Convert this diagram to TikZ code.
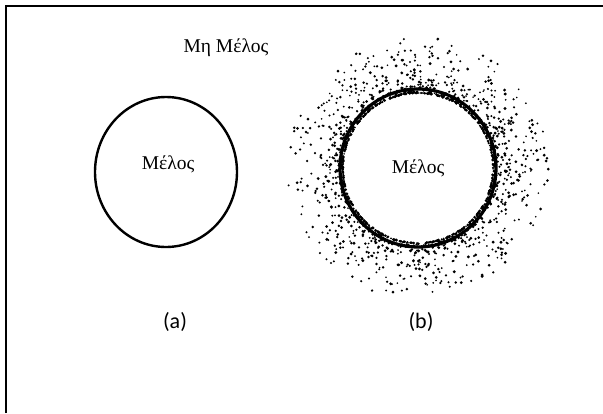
\documentclass[tikz,border=0pt]{standalone}
\usepackage{fontspec}
\setmainfont{Liberation Serif}
\newfontfamily\labfont{Carlito}
\usetikzlibrary{shapes.geometric}
\begin{document}
\begin{tikzpicture}[x=1pt,y=-1pt,
  greek/.style={font=\fontsize{19.5}{22}\selectfont, inner sep=0pt},
  lab/.style={font=\labfont\fontsize{22}{24}\selectfont, inner sep=0pt},
  memb/.style={draw, ellipse, inner sep=0pt}]
\useasboundingbox (0,0) rectangle (603,413);
% frame (cropped on right and bottom)
\draw[line width=1.8pt] (6,413) -- (6,6) -- (603,6);
% (a)
\node[memb, line width=2.4pt, minimum width=142, minimum height=150] (ca) at (166,172) {};
\node[greek] (ta) at (168,164) {Μέλος};
\node[greek] (outside) at (226,48) {Μη Μέλος};
\node[lab] (la) at (175,322) {(a)};
% (b)
\coordinate (cb) at (418,168);
\pgfmathsetseed{11}
\foreach \i in {1,...,1600}{
  \pgfmathsetmacro\ang{360*rnd}
  \pgfmathsetmacro\u{rnd}
  \pgfmathsetmacro\rad{75+56*\u*\u*\u}
  \pgfmathsetmacro\sz{0.9+0.7*rnd}
  \fill[shift={(cb)}] (\ang:\rad) circle (\sz);
}
\node[memb, line width=3.2pt, minimum width=156, minimum height=158] (cbb) at (cb) {};
\node[greek] (tb) at (418,168) {Μέλος};
\node[lab] (lb) at (421,322) {(b)};
\end{tikzpicture}
\end{document}
